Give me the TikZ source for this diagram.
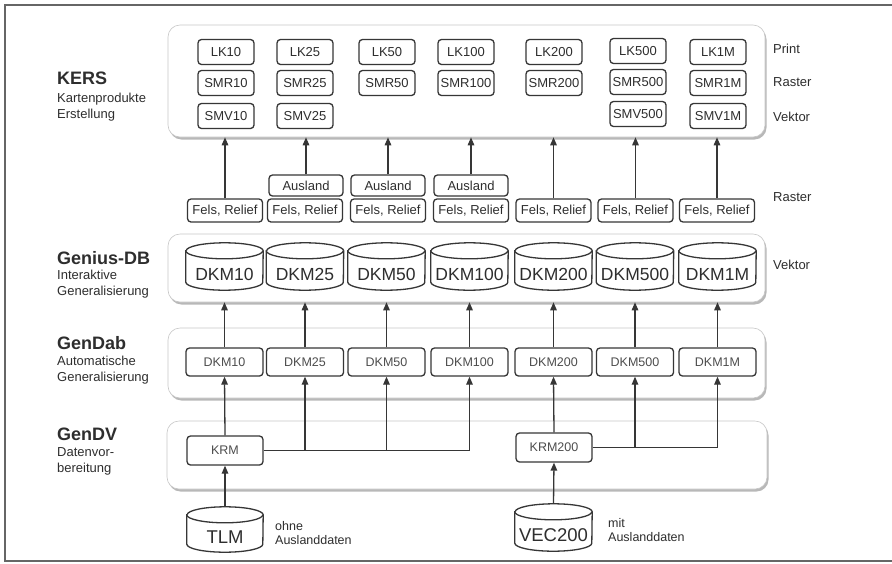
\documentclass[tikz,border=0pt]{standalone}
\usepackage{fontspec}
\setmainfont{Liberation Sans}
\usetikzlibrary{arrows.meta,shadows}
\definecolor{ink}{HTML}{2E2E2E}
\definecolor{edge}{HTML}{363636}
\definecolor{frame}{HTML}{666666}
\newcommand\mycyl[7]{%
  \node[cylnode, minimum width=#4pt, minimum height=#5pt] (#1) at (#2,#3) {};
  \draw[cylline] ([yshift=-8pt]#1.north west) -- ([yshift=8pt]#1.south west)
     arc[start angle=180, end angle=360, x radius=#6pt, y radius=8pt]
     -- ([yshift=-8pt]#1.north east)
     arc[start angle=0, end angle=180, x radius=#6pt, y radius=8pt] -- cycle;
  \draw[cylline] ([yshift=-8pt]#1.north west)
     arc[start angle=180, end angle=360, x radius=#6pt, y radius=8pt];
  \node[cyltext] (#1t) at ([yshift=-7.5pt]#1.center) {#7};
}
\begin{document}
\begin{tikzpicture}[x=1pt,y=-1pt,
  panel/.style={draw=black!22, line width=0.6pt, fill=white, rounded corners=12pt, inner sep=0pt,
     drop shadow={shadow xshift=1.5pt, shadow yshift=-2.5pt, fill=black!55, opacity=0.5}},
  sbox/.style={draw=edge, line width=1.3pt, fill=white, rounded corners=3.5pt, inner sep=0pt,
     text=ink, font=\fontsize{13}{15}\selectfont},
  kbox/.style={sbox, minimum width=56pt, minimum height=25pt},
  fbox/.style={sbox, minimum width=75pt, minimum height=23pt},
  abox/.style={sbox, minimum width=74pt, minimum height=21pt},
  gbox/.style={sbox, minimum width=77pt, minimum height=28pt, text=ink!85, font=\fontsize{12.5}{14}\selectfont},
  cylnode/.style={inner sep=0pt},
  cylline/.style={draw=edge, line width=1.3pt, fill=white},
  cyltext/.style={inner sep=0pt, text=ink, font=\fontsize{17.5}{19}\selectfont},
  ttl/.style={anchor=west, inner sep=0pt, text=ink, font=\bfseries\fontsize{18}{20}\selectfont},
  sub/.style={anchor=west, inner sep=0pt, text=ink, align=left, font=\fontsize{13}{16}\selectfont},
  side/.style={anchor=west, inner sep=0pt, text=ink, font=\fontsize{13}{15}\selectfont},
  arr/.style={draw=edge, line width=1.3pt, -{Triangle[length=8pt,width=6.5pt]}},
  ln/.style={draw=edge, line width=1.3pt}
]
\useasboundingbox (0,0) rectangle (892,563);
\fill[white] (0,0) rectangle (892,563);
\draw[frame, line width=1.6pt] (892,5) -- (5,5) -- (5,561) -- (892,561);

% panels
\node[panel, minimum width=597pt, minimum height=112pt] (kers) at (466.5,81) {};
\node[panel, minimum width=597pt, minimum height=68pt] (genius) at (466.5,268) {};
\node[panel, minimum width=597pt, minimum height=70pt] (gendab) at (466.5,363) {};
\node[panel, minimum width=600pt, minimum height=68pt] (gendv) at (467,455) {};

% left titles
\node[ttl] (tkers) at (57,78) {KERS};
\node[sub] (skers) at (57,107) {Kartenprodukte\\Erstellung};
\node[ttl] (tgen) at (57,258) {Genius-DB};
\node[sub] (sgen) at (57,284) {Interaktive\\Generalisierung};
\node[ttl] (tdab) at (57,343) {GenDab};
\node[sub] (sdab) at (57,370) {Automatische\\Generalisierung};
\node[ttl] (tdv) at (57,434) {GenDV};
\node[sub] (sdv) at (57,461) {Datenvor-\\bereitung};

% right labels
\node[side] (lprint) at (773,49) {Print};
\node[side] (lraster) at (773,82) {Raster};
\node[side] (lvektor) at (773,117) {Vektor};
\node[side] (lraster2) at (773,197) {Raster};
\node[side] (lvektor2) at (773,265) {Vektor};

% KERS boxes
\node[kbox] (lk10) at (226,52) {LK10};
\node[kbox] (lk25) at (305,52) {LK25};
\node[kbox] (lk50) at (387,52) {LK50};
\node[kbox] (lk100) at (466,52) {LK100};
\node[kbox] (lk200) at (554,52) {LK200};
\node[kbox] (lk500) at (638,51) {LK500};
\node[kbox] (lk1m) at (718,52) {LK1M};
\node[kbox] (smr10) at (226,83) {SMR10};
\node[kbox] (smr25) at (305,83) {SMR25};
\node[kbox] (smr50) at (387,83) {SMR50};
\node[kbox] (smr100) at (466,83) {SMR100};
\node[kbox] (smr200) at (554,83) {SMR200};
\node[kbox] (smr500) at (638,82) {SMR500};
\node[kbox] (smr1m) at (718,83) {SMR1M};
\node[kbox] (smv10) at (226,116) {SMV10};
\node[kbox] (smv25) at (305,116) {SMV25};
\node[kbox] (smv500) at (638,114) {SMV500};
\node[kbox] (smv1m) at (718,116) {SMV1M};

% Raster boxes
\node[abox] (aus25) at (306,185.5) {Ausland};
\node[abox] (aus50) at (388,185.5) {Ausland};
\node[abox] (aus100) at (471,185.5) {Ausland};
\node[fbox] (fr10) at (225,210.5) {Fels, Relief};
\node[fbox] (fr25) at (305,210.5) {Fels, Relief};
\node[fbox] (fr50) at (388,210.5) {Fels, Relief};
\node[fbox] (fr100) at (471,210.5) {Fels, Relief};
\node[fbox] (fr200) at (553.5,210.5) {Fels, Relief};
\node[fbox] (fr500) at (635.5,210.5) {Fels, Relief};
\node[fbox] (fr1m) at (717,210.5) {Fels, Relief};

\draw[arr] (fr10.north) -- (fr10.north |- kers.south);
\draw[arr] (aus25.north) -- (aus25.north |- kers.south);
\draw[arr] (aus50.north) -- (aus50.north |- kers.south);
\draw[arr] (aus100.north) -- (aus100.north |- kers.south);
\draw[arr] (fr200.north) -- (fr200.north |- kers.south);
\draw[arr] (fr500.north) -- (fr500.north |- kers.south);
\draw[arr] (fr1m.north) -- (fr1m.north |- kers.south);

% Genius-DB cylinders
\mycyl{g10}{224.5}{266.5}{77}{47}{38.5}{DKM10}
\mycyl{g25}{305}{266.5}{77}{47}{38.5}{DKM25}
\mycyl{g50}{386.5}{266.5}{77}{47}{38.5}{DKM50}
\mycyl{g100}{469.5}{266.5}{77}{47}{38.5}{DKM100}
\mycyl{g200}{553.5}{266.5}{77}{47}{38.5}{DKM200}
\mycyl{g500}{635}{266.5}{77}{47}{38.5}{DKM500}
\mycyl{g1m}{717.5}{266.5}{77}{47}{38.5}{DKM1M}

% GenDab boxes
\node[gbox] (d10) at (224.5,362) {DKM10};
\node[gbox] (d25) at (305,362) {DKM25};
\node[gbox] (d50) at (386.5,362) {DKM50};
\node[gbox] (d100) at (469.5,362) {DKM100};
\node[gbox] (d200) at (553.5,362) {DKM200};
\node[gbox] (d500) at (635,362) {DKM500};
\node[gbox] (d1m) at (717.5,362) {DKM1M};

\foreach \n in {d10,d25,d50,d100,d200,d500,d1m}{
  \draw[arr] (\n.north) -- (\n.north |- genius.south);
}

% GenDV
\node[gbox, minimum width=76pt, minimum height=29pt] (krm) at (225,450.5) {KRM};
\node[gbox, minimum width=76pt, minimum height=29pt] (krm200) at (554,447.5) {KRM200};

\draw[arr] (krm.north) -- (d10.south);
\draw[ln] (krm.east) -- (d100.south |- krm.east);
\draw[arr] (d25.south |- krm.east) -- (d25.south);
\draw[arr] (d50.south |- krm.east) -- (d50.south);
\draw[arr] (d100.south |- krm.east) -- (d100.south);

\draw[arr] (krm200.north) -- (d200.south);
\draw[ln] (krm200.east) -- (d1m.south |- krm200.east);
\draw[arr] (d500.south |- krm200.east) -- (d500.south);
\draw[arr] (d1m.south |- krm200.east) -- (d1m.south);

% sources
\mycyl{tlm}{225}{529.5}{76}{45}{38}{\fontsize{18.5}{20}\selectfont TLM}
\mycyl{vec}{553.5}{527.5}{77}{47}{38.5}{\fontsize{18.5}{20}\selectfont VEC200}
\draw[arr] (tlm.north) -- (krm.south);
\draw[arr] (vec.north) -- (krm200.south);

\node[sub, font=\fontsize{12.5}{14.5}\selectfont] (ohne) at (275,533) {ohne\\Auslanddaten};
\node[sub, font=\fontsize{12.5}{14.5}\selectfont] (mit) at (608,530) {mit\\Auslanddaten};
\end{tikzpicture}
\end{document}
